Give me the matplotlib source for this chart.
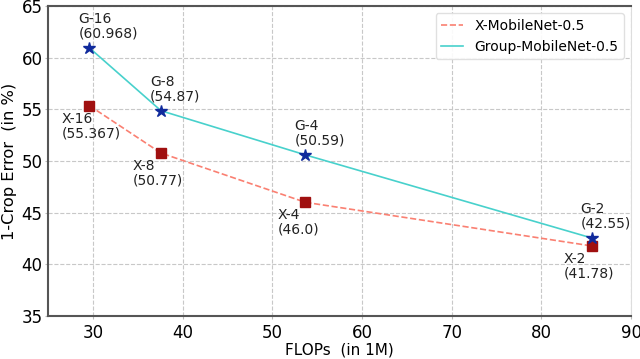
"""
FLOPs vs 1-crop error for X-MobileNet and Group-MobileNet.
"""
import matplotlib
matplotlib.use("Agg")
import matplotlib.pyplot as plt

flops = [29.6, 37.6, 53.7, 85.6]
x_err = [55.367, 50.77, 46.0, 41.78]
g_err = [60.968, 54.87, 50.59, 42.55]
x_names = ["X-16", "X-8", "X-4", "X-2"]
g_names = ["G-16", "G-8", "G-4", "G-2"]

fig = plt.figure(figsize=(6.4, 3.59), dpi=100)
ax = fig.add_axes([0.075, 0.12, 0.911, 0.863])

ax.plot(flops, x_err, ls="--", color="#fa8072", lw=1.2, label="X-MobileNet-0.5")
ax.plot(flops, g_err, ls="-", color="#48d1cc", lw=1.2, label="Group-MobileNet-0.5")
ax.plot(flops, x_err, ls="none", marker="s", ms=7, color="#a01010")
ax.plot(flops, g_err, ls="none", marker="*", ms=9, color="#102a9c")

for fx, v, name in zip(flops, x_err, x_names):
    ax.annotate(f"{name}\n({v})", (fx, v), xytext=(-28, -6), textcoords="offset pixels",
                ha="left", va="top", fontsize=10, color="#222222", linespacing=1.05)
for fx, v, name in zip(flops, g_err, g_names):
    ax.annotate(f"{name}\n({v})", (fx, v), xytext=(-11, 7), textcoords="offset pixels",
                ha="left", va="bottom", fontsize=10, color="#222222", linespacing=1.05)

ax.set_xlim(25, 90)
ax.set_ylim(35, 65)
ax.set_xticks(range(30, 91, 10))
ax.set_yticks(range(35, 66, 5))
ax.tick_params(axis="x", labelsize=12, length=2, color="#bbbbbb", pad=3.5)
ax.tick_params(axis="y", labelsize=12, length=2, color="#bbbbbb", pad=2)
ax.grid(True, ls="--", color="#c8c8c8", lw=0.8)
ax.set_xlabel("FLOPs  (in 1M)", fontsize=11, labelpad=0.5)
ax.set_ylabel("1-Crop Error  (in %)", fontsize=11.7, labelpad=3)

for side in ["left", "bottom", "top"]:
    ax.spines[side].set_color("#555555")
    ax.spines[side].set_linewidth(1.5)
ax.spines["right"].set_color("#dddddd")

ax.legend(loc="upper right", fontsize=10, framealpha=0.9, edgecolor="#dddddd",
          handlelength=1.6)

fig.savefig("out.png", dpi=100)
